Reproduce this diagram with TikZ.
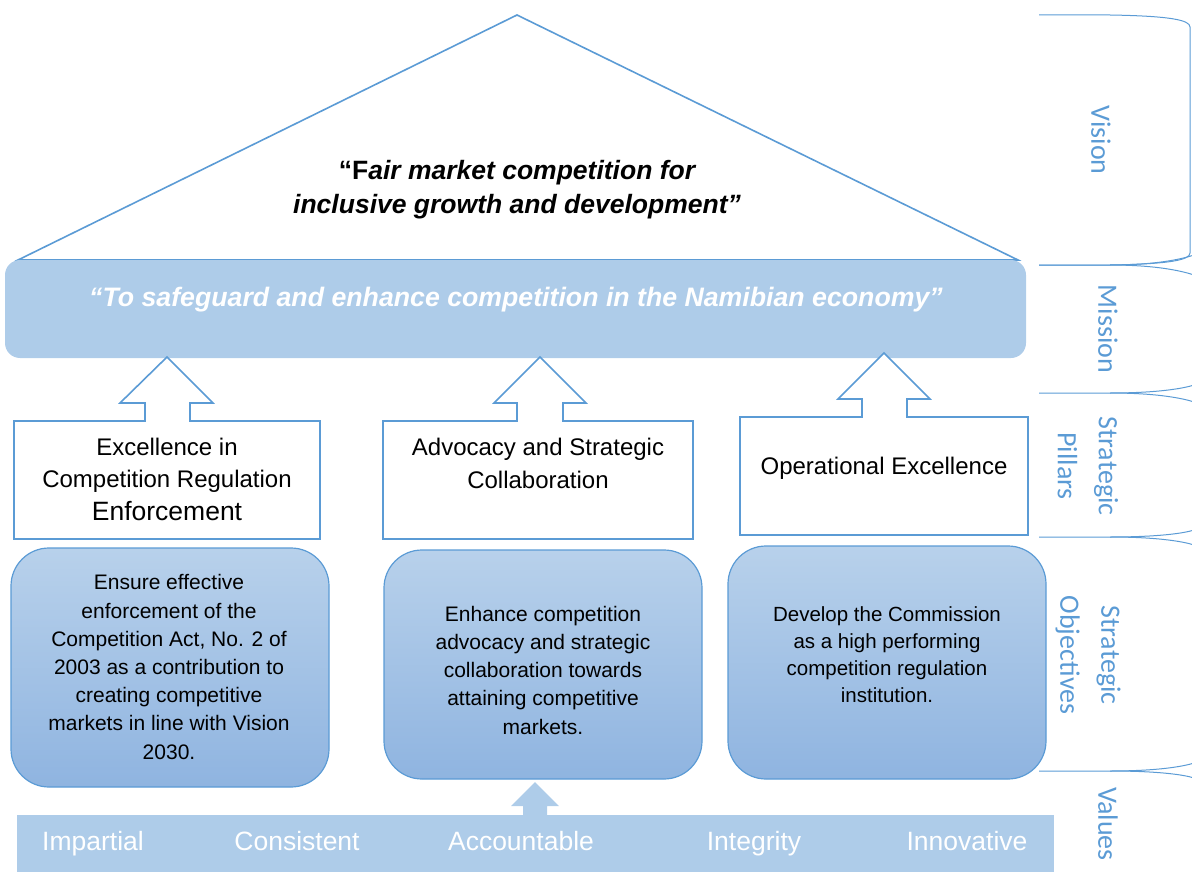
\documentclass[tikz,border=0pt]{standalone}
\usepackage{fontspec}
\setmainfont{Liberation Sans}
\newfontfamily\sidefont{Carlito}
\begin{document}
\definecolor{edgeblue}{HTML}{5B9BD5}
\definecolor{panelblue}{HTML}{AECCE9}
\definecolor{objtop}{HTML}{B8D1EB}
\definecolor{objbot}{HTML}{8FB4E0}
\definecolor{sideblue}{HTML}{5B9BD5}
% multi-line nodes are placed by the baseline of their last line
\begin{tikzpicture}[x=1pt,y=-1pt,
  outline/.style={draw=edgeblue,line width=1.6pt,line join=miter},
  objbox/.style={draw=edgeblue,line width=1.2pt,rounded corners=38pt,top color=objtop,bottom color=objbot},
  pillartext/.style={anchor=base,align=center,font=\fontsize{24}{32.5}\selectfont,text=black,inner sep=0pt},
  objtext/.style={anchor=base,align=center,font=\fontsize{21}{28.2}\selectfont,text=black,inner sep=0pt},
  valtext/.style={anchor=base,font=\fontsize{26.5}{30}\selectfont,text=white,inner sep=0pt},
  sidelabel/.style={rotate=-90,align=center,font=\sidefont\fontsize{28}{41}\selectfont,text=sideblue},
  brace/.style={draw=edgeblue,line width=1pt}]
\useasboundingbox (0,0) rectangle (1192,872);

% roof
\draw[outline,fill=white] (18,260) -- (517,15) -- (1018,260) -- cycle;
\node[anchor=base,inner sep=0pt,align=center,font=\fontsize{26.5}{34}\selectfont] (vision) at (517,214)
  {{\bfseries “F}{\bfseries\itshape air market competition for}\\{\bfseries\itshape inclusive growth and development”}};

% mission band
\fill[panelblue,rounded corners=15pt] (5,260) rectangle (1026,358);
\node[anchor=base,inner sep=0pt,font=\bfseries\itshape\fontsize{26.7}{30}\selectfont,text=white] (mission) at (516,306)
  {“To safeguard and enhance competition in the Namibian economy”};

% strategic pillars with upward arrows
\draw[outline,fill=white] (14,421) -- (145,421) -- (145,403) -- (120,403) -- (167,357) -- (213,403)
  -- (190,403) -- (190,421) -- (320,421) -- (320,539) -- (14,539) -- cycle;
\draw[outline,fill=white] (383,421) -- (517,421) -- (517,403) -- (494,403) -- (540,357) -- (586,403)
  -- (563,403) -- (563,421) -- (693,421) -- (693,539) -- (383,539) -- cycle;
\draw[outline,fill=white] (740,417) -- (862,417) -- (862,399) -- (838,399) -- (884,353) -- (930,399)
  -- (907,399) -- (907,417) -- (1028,417) -- (1028,535) -- (740,535) -- cycle;
\node[pillartext] (p1) at (167,520) {Excellence in\\Competition Regulation\\{\fontsize{26.5}{32.5}\selectfont Enforcement}};
\node[pillartext] (p2) at (538,488) {Advocacy and Strategic\\Collaboration};
\node[pillartext] (p3) at (884,474) {Operational Excellence};

% strategic objectives
\path[objbox] (11,548) rectangle (329,787);
\path[objbox] (384,550) rectangle (702,779);
\path[objbox] (728,546) rectangle (1046,779);
\node[objtext] (o1) at (169,759) {Ensure effective\\enforcement of the\\Competition Act, No. 2 of\\2003 as a contribution to\\creating competitive\\markets in line with Vision\\2030.};
\node[objtext] (o2) at (543,734) {Enhance competition\\advocacy and strategic\\collaboration towards\\attaining competitive\\markets.};
\node[objtext,font=\fontsize{20.5}{27}\selectfont] (o3) at (887,702) {Develop the Commission\\as a high performing\\competition regulation\\institution.};

% values bar with arrow
\fill[panelblue] (17,815) rectangle (1054,872);
\fill[panelblue] (523,816) -- (523,806) -- (511,806) -- (535,782) -- (559,806) -- (547,806) -- (547,816) -- cycle;
\node[valtext] (v1) at (93,850) {Impartial};
\node[valtext] (v2) at (297,850) {Consistent};
\node[valtext] (v3) at (521,850) {Accountable};
\node[valtext] (v4) at (754,850) {Integrity};
\node[valtext] (v5) at (967,850) {Innovative};

% side brackets
\draw[brace] (1039,15) -- (1110,15) .. controls (1170,16) and (1190,20) .. (1190,27)
  -- (1190,253) .. controls (1190,260) and (1170,264) .. (1110,265) -- (1039,265);
\foreach \yb/\up/\dn in {265/255/275, 393/385/402, 537/530/545, 771/763/778}{
  \draw[brace] (1039,\yb) -- (1110,\yb) .. controls (1160,\yb) and (1185,\up+3) .. (1194,\up);
  \draw[brace] (1110,\yb) .. controls (1160,\yb) and (1185,\dn-3) .. (1194,\dn);
}
\node[sidelabel] (lv) at (1101,140) {Vision};
\node[sidelabel] (lm) at (1108,329) {Mission};
\node[sidelabel] (lp) at (1088,466) {Strategic\\Pillars};
\node[sidelabel] (lo) at (1088,655) {Strategic\\Objectives};
\node[sidelabel] (lval) at (1108,824) {Values};
\end{tikzpicture}
\end{document}
